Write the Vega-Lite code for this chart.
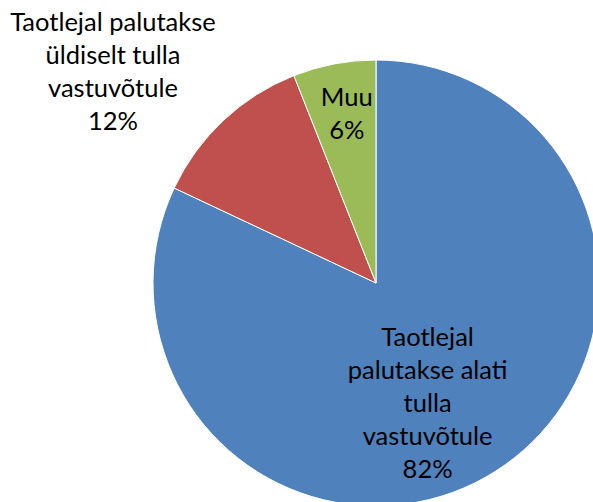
{
  "$schema": "https://vega.github.io/schema/vega-lite/v6.json",
  "width": 434,
  "height": 434,
  "autosize": "none",
  "padding": {"left": 159, "top": 66, "right": 0, "bottom": 2},
  "background": "white",
  "data": {
    "values": [
      {"cat": "alati", "idx": 1, "value": 82, "label": "Taotlejal\npalutakse alati\ntulla\nvastuvõtule\n82%"},
      {"cat": "üldiselt", "idx": 2, "value": 12, "label": "Taotlejal palutakse\nüldiselt tulla\nvastuvõtule\n12%"},
      {"cat": "Muu", "idx": 3, "value": 6, "label": "Muu\n6%"}
    ]
  },
  "encoding": {
    "theta": {"field": "value", "type": "quantitative", "stack": true},
    "order": {"field": "idx", "type": "quantitative"}
  },
  "layer": [
    {
      "mark": {"type": "arc", "outerRadius": 223, "stroke": "white", "strokeWidth": 1},
      "encoding": {
        "color": {
          "field": "cat", "type": "nominal",
          "scale": {"domain": ["alati", "üldiselt", "Muu"], "range": ["#4F81BD", "#C0504D", "#9BBB59"]},
          "legend": null
        }
      }
    },
    {
      "mark": {"type": "text", "radius": 143, "dx": -25, "dy": -66, "font": "Lato", "fontSize": 25.5, "lineHeight": 33, "lineBreak": "\n", "align": "center", "baseline": "middle", "fill": "black"},
      "encoding": {
        "detail": {"field": "cat", "type": "nominal"},
        "text": {"condition": {"test": "datum.cat === 'alati'", "field": "label"}, "value": ""}
      }
    },
    {
      "mark": {"type": "text", "radius": 320, "dx": -44, "dy": -26.5, "font": "Lato", "fontSize": 25.5, "lineHeight": 33, "lineBreak": "\n", "align": "center", "baseline": "middle", "fill": "black"},
      "encoding": {
        "detail": {"field": "cat", "type": "nominal"},
        "text": {"condition": {"test": "datum.cat === 'üldiselt'", "field": "label"}, "value": ""}
      }
    },
    {
      "mark": {"type": "text", "radius": 172, "dx": 3, "dy": -16.5, "font": "Lato", "fontSize": 25.5, "lineHeight": 33, "lineBreak": "\n", "align": "center", "baseline": "middle", "fill": "black"},
      "encoding": {
        "detail": {"field": "cat", "type": "nominal"},
        "text": {"condition": {"test": "datum.cat === 'Muu'", "field": "label"}, "value": ""}
      }
    }
  ]
}
